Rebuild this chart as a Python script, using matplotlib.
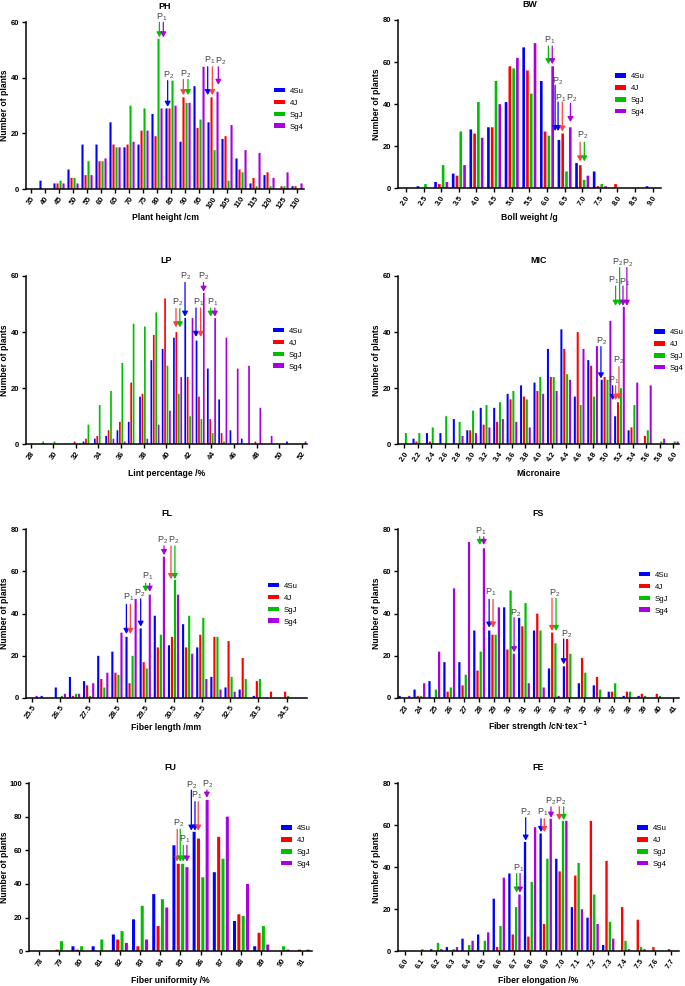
import matplotlib
matplotlib.use("Agg")
import numpy as np
import matplotlib.pyplot as plt

plt.rcParams["font.family"] = ["Liberation Sans", "DejaVu Sans"]
plt.rcParams["mathtext.default"] = "regular"

# ==========================
# Data
# ==========================

series_names = ["4Su", "4J", "SgJ", "Sg4"]
series_colors = ["#0000ff", "#ff0000", "#00bf00", "#a800e0"]
arrow_colors = ["#0000ff", "#ff4040", "#00bf00", "#a800e0"]

# PH
ph_labels = [str(v) for v in range(35, 135, 5)]
ph_4su = [0, 3, 2, 7, 16, 16, 24, 15, 16, 27, 29, 17, 37, 24, 18, 11, 2, 5, 0, 1]
ph_4j = [0, 0, 2, 4, 5, 10, 16, 16, 21, 19, 29, 33, 22, 33, 19, 7, 4, 6, 1, 1]
ph_sgj = [0, 0, 3, 4, 10, 10, 15, 30, 29, 54, 39, 31, 25, 14, 3, 6, 1, 1, 1, 0]
ph_sg4 = [0, 0, 2, 2, 5, 11, 15, 17, 21, 29, 30, 31, 44, 35, 23, 14, 13, 4, 6, 2]
ph_arrows = [
    (2, 9.17, 60, 54.6), (3, 9.45, 60, 54.6), (0, 9.76, 39, 29.6),
    (1, 10.88, 39.5, 33.8), (2, 11.21, 39.5, 33.8), (0, 12.62, 44, 33.8),
    (1, 12.95, 44, 33.8), (3, 13.38, 44, 37.5),
]
ph_notes = [
    ("P$_1$", 9.33, 61.8), ("P$_2$", 9.8, 41), ("P$_2$", 11.05, 41.4),
    ("P$_1$", 12.74, 46.4), ("P$_2$", 13.57, 46),
]

# BW
bw_labels = ["2.0", "2.5", "3.0", "3.5", "4.0", "4.5", "5.0", "5.5",
             "6.0", "6.5", "7.0", "7.5", "8.0", "8.5", "9.0"]
bw_4su = [0, 1, 3, 7, 28, 29, 41, 67, 51, 23, 12, 8, 0, 0, 1]
bw_4j = [0, 0, 2, 6, 26, 29, 58, 56, 27, 26, 11, 1, 2, 0, 0]
bw_sgj = [0, 2, 11, 27, 41, 51, 57, 45, 25, 8, 4, 2, 0, 0, 0]
bw_sg4 = [0, 0, 3, 11, 24, 40, 62, 69, 58, 29, 6, 1, 0, 0, 0]
bw_arrows = [
    (2, 8.08, 67.6, 59), (3, 8.30, 67.6, 59), (0, 8.46, 49, 27.2),
    (0, 8.63, 41, 27.2), (1, 8.87, 41, 27), (3, 9.33, 40.4, 31.5),
    (1, 9.88, 21.9, 12.8), (2, 10.12, 21.9, 12.8),
]
bw_notes = [
    ("P$_1$", 8.17, 70.5), ("P$_2$", 8.63, 50.7), ("P$_1$", 8.76, 43),
    ("P$_2$", 9.38, 43), ("P$_2$", 10, 25.2),
]

# LP
lp_labels = [str(v) for v in range(28, 53)]
lp_4su = [0, 0, 0, 0, 0, 1, 2, 3, 5, 8, 17, 30, 34, 38, 45, 37, 27, 16, 5, 2, 0, 0, 0, 1, 0]
lp_4j = [0, 0, 0, 0, 1, 2, 3, 5, 8, 22, 18, 39, 52, 40, 24, 17, 9, 4, 0, 0, 1, 0, 0, 0, 0]
lp_sgj = [0, 1, 1, 0, 0, 7, 14, 19, 29, 43, 42, 47, 28, 18, 10, 9, 4, 1, 0, 0, 0, 0, 0, 0, 0]
lp_sg4 = [0, 0, 0, 0, 0, 0, 0, 2, 1, 0, 2, 7, 12, 24, 45, 54, 45, 38, 27, 28, 13, 3, 0, 0, 1]
lp_arrows = [
    (1, 12.86, 48.4, 41.7), (2, 13.2, 48.4, 41.7), (0, 13.66, 57.7, 45.5),
    (0, 14.63, 48.6, 38.3), (1, 15.04, 48.6, 38.3), (3, 15.3, 57.7, 54.4),
    (2, 15.93, 48.6, 45.5), (3, 16.3, 48.6, 45.5),
]
lp_notes = [
    ("P$_2$", 13, 50.7), ("P$_2$", 13.75, 59.8), ("P$_1$", 14.84, 50.7),
    ("P$_2$", 15.34, 59.8), ("P$_1$", 16.1, 50.7),
]

# MIC
mic_labels = ["2.0", "2.2", "2.4", "2.6", "2.8", "3.0", "3.2", "3.4", "3.6", "3.8", "4.0",
              "4.2", "4.4", "4.6", "4.8", "5.0", "5.2", "5.4", "5.6", "5.8", "6.0"]
mic_4su = [0, 2, 4, 4, 9, 5, 13, 13, 18, 21, 22, 34, 41, 17, 30, 23, 10, 5, 0, 0, 0]
mic_4j = [0, 1, 1, 0, 0, 5, 7, 8, 16, 17, 19, 24, 34, 40, 28, 24, 15, 6, 3, 0, 0]
mic_sgj = [4, 4, 6, 10, 8, 12, 14, 15, 19, 16, 24, 24, 25, 14, 17, 23, 20, 14, 5, 1, 1]
mic_sg4 = [0, 0, 0, 0, 3, 4, 6, 9, 8, 6, 18, 19, 23, 34, 35, 44, 49, 22, 21, 2, 1]
mic_arrows = [
    (0, 14.62, 34.8, 23.5), (0, 15.49, 20.9, 15.8), (1, 15.71, 20.9, 15.8),
    (1, 15.96, 27.7, 16), (2, 15.71, 56.4, 49.4), (2, 16.01, 63, 49.4),
    (3, 16.26, 56.4, 49.4), (3, 16.55, 63, 49.4),
]
mic_notes = [
    ("P$_1$", 15.6, 58.4), ("P$_2$", 15.89, 64.8), ("P$_1$", 16.41, 57.8),
    ("P$_2$", 16.63, 64.5), ("P$_2$", 14.65, 36.6), ("P$_2$", 15.91, 29.8),
    ("P$_1$", 15.6, 23),
]

# FL
fl_labels = ["25.5", "", "26.5", "", "27.5", "", "28.5", "", "29.5", "", "30.5", "",
             "31.5", "", "32.5", "", "33.5", "", "34.5", ""]
fl_4su = [0, 1, 5, 10, 8, 20, 22, 29, 33, 39, 25, 35, 24, 10, 5, 4, 1, 0, 0, 0]
fl_4j = [0, 0, 0, 1, 6, 9, 12, 7, 17, 24, 29, 24, 30, 29, 27, 19, 8, 3, 3, 0]
fl_sgj = [0, 0, 1, 2, 1, 5, 11, 20, 14, 30, 56, 39, 38, 29, 10, 9, 9, 0, 1, 0]
fl_sg4 = [1, 0, 2, 2, 7, 12, 31, 47, 49, 67, 49, 21, 9, 4, 3, 0, 0, 0, 0, 0]
fl_arrows = [
    (0, 6.67, 44.4, 30.4), (1, 6.95, 44.4, 30.4), (0, 7.68, 47, 33.8),
    (2, 8.03, 54.4, 50.4), (3, 8.32, 54.4, 50.4), (3, 9.33, 72.1, 67.8),
    (1, 9.82, 72.1, 56.4), (2, 10.1, 72.1, 56.4),
]
fl_notes = [
    ("P$_1$", 6.81, 47.6), ("P$_2$", 7.61, 49.5), ("P$_1$", 8.17, 57.7),
    ("P$_2$", 9.23, 75), ("P$_2$", 9.99, 74.6),
]

# FS
fs_labels = [str(v) for v in range(23, 42)]
fs_4su = [1, 4, 8, 17, 17, 32, 32, 43, 38, 32, 14, 15, 7, 6, 3, 1, 1, 0, 0]
fs_4j = [0, 1, 0, 3, 6, 13, 30, 23, 34, 40, 31, 28, 19, 10, 3, 3, 2, 2, 0]
fs_sgj = [0, 1, 4, 5, 11, 22, 30, 51, 45, 32, 26, 21, 12, 4, 7, 3, 1, 1, 0]
fs_sg4 = [1, 7, 22, 52, 74, 71, 43, 21, 7, 5, 1, 0, 0, 0, 0, 0, 0, 0, 0]
fs_arrows = [
    (2, 5.04, 76.5, 72.6), (3, 5.31, 76.5, 72.6), (0, 5.67, 46.8, 33.4),
    (1, 5.93, 46.8, 33.4), (3, 7.34, 38.1, 21.7), (1, 9.88, 47.3, 31.8),
    (2, 10.15, 47.3, 31.8), (0, 10.66, 28, 16),
]
fs_notes = [
    ("P$_1$", 5.13, 79), ("P$_1$", 5.8, 50.3), ("P$_2$", 7.47, 40),
    ("P$_2$", 10.06, 49.5), ("P$_2$", 10.86, 30.4),
]

# FU
fu_labels = [str(v) for v in range(78, 92)]
fu_4su = [0, 0, 3, 3, 10, 19, 34, 63, 71, 47, 18, 3, 0, 0]
fu_4j = [0, 1, 1, 0, 7, 3, 15, 52, 67, 68, 22, 11, 0, 1]
fu_sgj = [0, 6, 3, 7, 12, 27, 31, 52, 44, 55, 21, 15, 3, 0]
fu_sg4 = [0, 0, 0, 0, 5, 7, 26, 50, 90, 80, 40, 4, 1, 1]
fu_arrows = [
    (1, 6.84, 72.5, 53.3), (2, 6.99, 72.5, 53.3), (2, 7.14, 63, 53.3),
    (3, 7.32, 63, 53.3), (0, 7.54, 95.8, 71.7), (0, 7.72, 88.9, 71.7),
    (1, 7.88, 88.9, 71.7), (3, 8.31, 95.8, 91.3),
]
fu_notes = [
    ("P$_2$", 6.91, 76), ("P$_1$", 7.22, 66.3), ("P$_2$", 7.54, 98.8),
    ("P$_1$", 7.79, 92.9), ("P$_2$", 8.33, 99.2),
]

# FE
fe_labels = ["6.0", "6.1", "6.2", "6.3", "6.4", "6.5", "6.6", "6.7", "6.8",
             "6.9", "7.0", "7.1", "7.2", "7.3", "7.4", "7.5", "7.6", "7.7"]
fe_4su = [0, 0, 1, 2, 6, 8, 25, 37, 52, 56, 44, 21, 16, 3, 0, 0, 0, 0]
fe_4j = [0, 0, 0, 0, 0, 0, 2, 8, 7, 13, 38, 36, 62, 43, 21, 15, 2, 1]
fe_sgj = [0, 1, 4, 1, 3, 5, 12, 21, 33, 44, 62, 42, 27, 14, 5, 2, 0, 0]
fe_sg4 = [0, 0, 1, 2, 5, 9, 35, 27, 59, 63, 62, 20, 13, 6, 1, 1, 0, 0]
fe_arrows = [
    (2, 7.14, 37, 27.9), (3, 7.36, 37, 27.9), (0, 7.72, 63.5, 52.6),
    (0, 8.7, 63, 56.7), (1, 8.91, 63, 56.7), (3, 9.34, 68.6, 63.5),
    (1, 9.87, 68.7, 62.4), (2, 10.15, 68.7, 62.4),
]
fe_notes = [
    ("P$_1$", 7.3, 39.4), ("P$_2$", 7.74, 66), ("P$_1$", 8.8, 66.2),
    ("P$_2$", 9.34, 71.1), ("P$_2$", 9.98, 71.1),
]

# ==========================
# Figure
# ==========================

W, H = 685, 986
fig = plt.figure(figsize=(W / 100, H / 100), dpi=100)
fig.patch.set_facecolor("white")


def panel(title, xlabel, labels, values, arrows, notes, ymax, ystep, tick_every,
          box, xlim, legend_xy, ylabel_off=21):
    # box is left, right, bottom, top of the axes in picture pixels
    left, right, bottom, top = box
    ax = fig.add_axes([left / W, 1 - bottom / H, (right - left) / W, (bottom - top) / H])
    x = np.arange(len(labels))
    for s in range(4):
        bars = ax.bar(x + (s - 1.5) * 0.215, values[s], width=0.15,
                      color=series_colors[s], label=series_names[s])
        for b in bars:
            b.set_snap(False)

    for s, ax_x, y_top, y_tip in arrows:
        ax.annotate("", xy=(ax_x, y_tip), xytext=(ax_x, y_top), annotation_clip=False,
                    arrowprops=dict(arrowstyle="-|>,head_width=0.28,head_length=0.5",
                                    color=arrow_colors[s], lw=0.9,
                                    mutation_scale=6, shrinkA=0, shrinkB=0))
    for text, ax_x, y in notes:
        ax.text(ax_x, y, text, ha="center", va="center", fontsize=6.5,
                color="#444444", clip_on=False)

    ax.set_xlim(*xlim)
    ax.set_ylim(0, ymax)
    ax.set_yticks(np.arange(0, ymax + 1, ystep))
    ticks = x[::tick_every]
    ax.set_xticks(ticks)
    ax.set_xticklabels([labels[i] for i in ticks], rotation=55, ha="right",
                       rotation_mode="anchor")
    ax.tick_params(axis="both", labelsize=5.5, length=3, width=1, pad=1.5)
    for lab in ax.get_xticklabels() + ax.get_yticklabels():
        lab.set_fontweight("bold")
    ax.spines["top"].set_visible(False)
    ax.spines["right"].set_visible(False)
    ax.spines["left"].set_linewidth(1.1)
    ax.spines["bottom"].set_linewidth(1.1)

    ax.set_xlabel(xlabel, fontsize=6.2, fontweight="bold", va="center")
    ax.xaxis.set_label_coords(0.5, -29 / (bottom - top))
    ax.set_ylabel("Number of plants", fontsize=6.2, fontweight="bold", va="center")
    ax.yaxis.set_label_coords(-ylabel_off / (right - left), 0.5)
    ax.text(0.5, 1 + 15.5 / (bottom - top), title, transform=ax.transAxes, ha="center",
            va="center", fontsize=6.4, fontweight="bold")

    ax.legend(loc="upper left", bbox_to_anchor=(legend_xy[0] / W, 1 - (legend_xy[1] - 5) / H),
              bbox_transform=fig.transFigure, frameon=False, fontsize=5.6, borderpad=0,
              borderaxespad=0, handlelength=1.4, handleheight=0.55, handletextpad=0.6,
              labelspacing=0.62)
    return ax


panel("PH", "Plant height /cm", ph_labels, [ph_4su, ph_4j, ph_sgj, ph_sg4], ph_arrows, ph_notes,
      60, 20, 1, (25.7, 304.3, 189, 22.3), (-0.38, 19.52), (274, 92.7))
panel("BW", "Boll weight /g", bw_labels, [bw_4su, bw_4j, bw_sgj, bw_sg4], bw_arrows, bw_notes,
      80, 20, 1, (397.7, 661, 188.3, 20), (-0.47, 14.47), (615, 78))
panel("LP", "Lint percentage /%", lp_labels, [lp_4su, lp_4j, lp_sgj, lp_sg4], lp_arrows, lp_notes,
      60, 20, 2, (25.7, 307.3, 444.3, 276), (-0.44, 24.48), (273, 332.7))
panel("MIC", "Micronaire", mic_labels, [mic_4su, mic_4j, mic_sgj, mic_sg4], mic_arrows, mic_notes,
      60, 20, 1, (397.7, 679.3, 444.3, 276), (-0.5, 20.45), (654, 334))
panel("FL", "Fiber length /mm", fl_labels, [fl_4su, fl_4j, fl_sgj, fl_sg4], fl_arrows, fl_notes,
      80, 20, 2, (25.7, 307.3, 698, 529.3), (-0.45, 19.46), (268, 587.7))
panel("FS", r"Fiber strength /cN·tex$^{\mathbf{-1}}$", fs_labels, [fs_4su, fs_4j, fs_sgj, fs_sg4],
      fs_arrows, fs_notes, 80, 20, 1, (397.7, 679.3, 698, 529.3), (-0.45, 18.4), (639, 576.7))
panel("FU", "Fiber uniformity /%", fu_labels, [fu_4su, fu_4j, fu_sgj, fu_sg4], fu_arrows, fu_notes,
      100, 20, 1, (29, 311.7, 951.3, 783), (-0.5, 13.5), (281, 830), ylabel_off=24.5)
panel("FE", "Fiber elongation /%", fe_labels, [fe_4su, fe_4j, fe_sgj, fe_sg4], fe_arrows, fe_notes,
      80, 20, 1, (397.7, 679.3, 951.3, 783), (-0.47, 17.55), (637, 830))

fig.savefig("out.png", dpi=100)
